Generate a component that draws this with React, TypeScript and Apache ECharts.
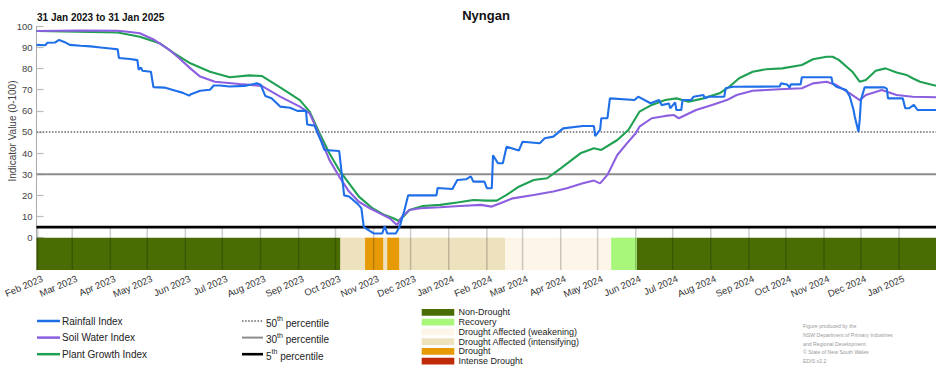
import React, { useEffect, useRef } from "react";
import * as echarts from "echarts";

const FONT = "'Liberation Sans', Arial, sans-serif";

const chartTitle = "Nyngan";
const chartSubtitle = "31 Jan 2023 to 31 Jan 2025";
const yAxisName = "Indicator Value (0-100)";
const startDate = "2023-01-31";
const endDate = "2025-01-31";
const yTickValues = [0, 10, 20, 30, 40, 50, 60, 70, 80, 90, 100];

const rainfallIndex: [string, number][] = [
  ["2023-01-31", 91.2], ["2023-02-07", 91], ["2023-02-09", 92.2], ["2023-02-15", 92.3], ["2023-02-18", 93.5],
  ["2023-02-19", 93.4], ["2023-02-23", 92.5], ["2023-02-27", 91.2], ["2023-03-08", 90.8], ["2023-03-16", 90.5],
  ["2023-03-24", 90], ["2023-04-01", 89.5], ["2023-04-07", 89.1], ["2023-04-08", 85], ["2023-04-17", 84.5],
  ["2023-04-23", 84], ["2023-04-24", 79.5], ["2023-04-26", 80.5], ["2023-04-27", 79], ["2023-05-04", 78.5],
  ["2023-05-06", 71.2], ["2023-05-15", 71], ["2023-05-24", 69.5], ["2023-05-30", 68.5], ["2023-06-04", 67.2],
  ["2023-06-06", 68], ["2023-06-13", 69.5], ["2023-06-21", 70], ["2023-06-24", 72], ["2023-06-29", 72],
  ["2023-07-07", 71.5], ["2023-07-19", 71.8], ["2023-07-29", 73], ["2023-08-01", 72.5], ["2023-08-05", 67],
  ["2023-08-10", 66], ["2023-08-17", 62], ["2023-08-25", 61.5], ["2023-08-31", 60], ["2023-09-07", 60],
  ["2023-09-08", 53.5], ["2023-09-14", 53], ["2023-09-16", 50], ["2023-09-19", 46], ["2023-09-22", 41.5],
  ["2023-10-04", 41], ["2023-10-08", 20], ["2023-10-12", 19.5], ["2023-10-19", 16], ["2023-10-22", 14],
  ["2023-10-24", 5], ["2023-11-01", 2], ["2023-11-08", 2], ["2023-11-10", 5.5], ["2023-11-12", 2],
  ["2023-11-19", 2], ["2023-11-22", 5], ["2023-11-26", 13], ["2023-11-29", 20], ["2023-12-09", 20],
  ["2023-12-22", 20], ["2023-12-23", 23.5], ["2024-01-04", 23], ["2024-01-08", 27.3], ["2024-01-15", 27.6],
  ["2024-01-19", 29], ["2024-01-21", 26.5], ["2024-01-30", 26.5], ["2024-02-01", 23.4], ["2024-02-05", 23.4],
  ["2024-02-06", 39], ["2024-02-10", 35.2], ["2024-02-14", 35.2], ["2024-02-17", 43], ["2024-02-27", 41.2],
  ["2024-03-01", 45.4], ["2024-03-15", 44.7], ["2024-03-19", 47], ["2024-03-26", 47.8], ["2024-04-03", 51.7],
  ["2024-04-19", 52.8], ["2024-04-28", 52.8], ["2024-04-29", 48], ["2024-05-03", 51], ["2024-05-04", 56.5],
  ["2024-05-09", 56.5], ["2024-05-11", 65.9], ["2024-05-31", 65.1], ["2024-06-03", 66.7], ["2024-06-13", 63.6],
  ["2024-06-20", 65.1], ["2024-06-22", 62.7], ["2024-06-28", 63.5], ["2024-06-29", 61.2], ["2024-07-03", 64],
  ["2024-07-04", 60.4], ["2024-07-08", 60.4], ["2024-07-09", 65.1], ["2024-07-16", 65.1], ["2024-07-18", 66.7],
  ["2024-07-26", 67.5], ["2024-07-27", 66], ["2024-07-30", 66.7], ["2024-08-12", 66.7], ["2024-08-13", 70.7],
  ["2024-08-19", 71.4], ["2024-09-26", 71.5], ["2024-09-27", 73], ["2024-10-02", 72.5], ["2024-10-04", 71],
  ["2024-10-05", 72.5], ["2024-10-13", 72.5], ["2024-10-14", 75.9], ["2024-11-07", 75.9], ["2024-11-08", 73],
  ["2024-11-11", 71.4], ["2024-11-16", 70.5], ["2024-11-19", 69.9], ["2024-11-22", 66.7], ["2024-11-25", 60.4],
  ["2024-11-26", 57.2], ["2024-11-28", 52.5], ["2024-11-29", 50.1], ["2024-11-30", 55.7], ["2024-12-01", 65.1],
  ["2024-12-04", 71.1], ["2024-12-20", 71.1], ["2024-12-22", 70.5], ["2024-12-23", 65.9], ["2025-01-04", 65.9],
  ["2025-01-06", 61.2], ["2025-01-09", 61.2], ["2025-01-13", 62.8], ["2025-01-16", 60.4], ["2025-01-31", 60.4],
];

const soilWaterIndex: [string, number][] = [
  ["2023-01-31", 97.8], ["2023-03-07", 98], ["2023-04-07", 97.9], ["2023-04-17", 97.3], ["2023-04-25", 96.7],
  ["2023-05-07", 93.5], ["2023-05-19", 88.8], ["2023-05-27", 84.9], ["2023-06-05", 80.1], ["2023-06-13", 76.2],
  ["2023-06-25", 73.8], ["2023-07-15", 72.7], ["2023-08-02", 71.8], ["2023-08-17", 66.7], ["2023-09-02", 62],
  ["2023-09-10", 58.8], ["2023-09-16", 51], ["2023-09-26", 36.8], ["2023-10-04", 28.9], ["2023-10-12", 21.8],
  ["2023-10-20", 17], ["2023-10-29", 13.9], ["2023-11-06", 11.5], ["2023-11-14", 9.2], ["2023-11-20", 6],
  ["2023-11-24", 9.9], ["2023-11-30", 13.1], ["2023-12-09", 13.9], ["2023-12-25", 14.4], ["2024-01-10", 15],
  ["2024-01-27", 15.5], ["2024-02-05", 14.7], ["2024-02-12", 16.3], ["2024-02-22", 18.6], ["2024-03-10", 20.2],
  ["2024-03-26", 21.8], ["2024-04-06", 23.4], ["2024-04-19", 25.7], ["2024-04-28", 27], ["2024-05-03", 25.7],
  ["2024-05-09", 29.7], ["2024-05-17", 39.1], ["2024-05-25", 44.7], ["2024-06-01", 49.4], ["2024-06-04", 52.5],
  ["2024-06-14", 56.5], ["2024-06-25", 57.6], ["2024-07-02", 58], ["2024-07-06", 56.5], ["2024-07-20", 60.4],
  ["2024-08-02", 62.8], ["2024-08-14", 65.1], ["2024-08-22", 67.5], ["2024-09-04", 69.5], ["2024-09-26", 70.2],
  ["2024-10-14", 70.7], ["2024-10-23", 73], ["2024-11-03", 73.8], ["2024-11-11", 72.2], ["2024-11-22", 68.3],
  ["2024-11-30", 65.1], ["2024-12-05", 67.5], ["2024-12-18", 69.9], ["2024-12-30", 67.5], ["2025-01-12", 66.7],
  ["2025-01-31", 66.4],
];

const plantGrowthIndex: [string, number][] = [
  ["2023-01-31", 97.8], ["2023-04-07", 97.1], ["2023-04-25", 95.1], ["2023-05-11", 92], ["2023-05-23", 87.2],
  ["2023-06-05", 82.5], ["2023-06-21", 78.5], ["2023-07-07", 75.9], ["2023-07-23", 76.8], ["2023-08-02", 76.5],
  ["2023-08-17", 71.1], ["2023-09-02", 65.1], ["2023-09-10", 59.6], ["2023-09-18", 49.4], ["2023-09-26", 39.9],
  ["2023-10-04", 32], ["2023-10-12", 25.7], ["2023-10-20", 19.4], ["2023-10-31", 13.9], ["2023-11-10", 10.7],
  ["2023-11-17", 9.2], ["2023-11-21", 8], ["2023-11-25", 9.9], ["2023-11-30", 13.1], ["2023-12-11", 15],
  ["2023-12-25", 15.5], ["2024-01-08", 16.6], ["2024-01-21", 17.8], ["2024-02-01", 17.5], ["2024-02-09", 17.5],
  ["2024-02-17", 20.2], ["2024-02-27", 24.1], ["2024-03-10", 27.3], ["2024-03-21", 28.1], ["2024-04-01", 32.8],
  ["2024-04-17", 39.9], ["2024-04-28", 42.3], ["2024-05-04", 41.5], ["2024-05-17", 46.2], ["2024-05-26", 50.9],
  ["2024-06-04", 59.6], ["2024-06-14", 62.8], ["2024-06-25", 65.1], ["2024-07-04", 65.9], ["2024-07-14", 64.3],
  ["2024-07-26", 65.9], ["2024-08-08", 68.3], ["2024-08-16", 71.4], ["2024-08-24", 75.4], ["2024-09-04", 78.5],
  ["2024-09-15", 79.7], ["2024-09-28", 80.1], ["2024-10-14", 81.7], ["2024-10-23", 84.4], ["2024-11-03", 85.6],
  ["2024-11-08", 85.6], ["2024-11-13", 84.1], ["2024-11-24", 78.5], ["2024-11-30", 73.8], ["2024-12-05", 74.6],
  ["2024-12-13", 79], ["2024-12-21", 80.1], ["2024-12-30", 78.1], ["2025-01-07", 77], ["2025-01-12", 75.4],
  ["2025-01-18", 73.8], ["2025-01-31", 71.9],
];

const indexNames = ["Rainfall Index", "Soil Water Index", "Plant Growth Index"];
const indexColors = ["#1f6fe8", "#8b5fe0", "#20a052"];

const percentileValues = [50, 30, 5];
const percentileNumbers = ["50", "30", "5"];
const percentileColors = ["#8c8c8c", "#8c8c8c", "#000000"];
const percentileTypes: any[] = [[1.5, 1.6], "solid", "solid"];
const percentileWidths = [2, 2, 2.6];

const droughtCategories = [
  "Non-Drought",
  "Recovery",
  "Drought Affected (weakening)",
  "Drought Affected (intensifying)",
  "Drought",
  "Intense Drought",
];
const droughtColors = ["#4a6d03", "#a8f67a", "#fdf5e8", "#eee1be", "#e69b06", "#bf2a08"];
const droughtPeriods: [string, string, number][] = [
  ["2023-01-31", "2023-10-05", 0],
  ["2023-10-05", "2023-10-25", 3],
  ["2023-10-25", "2023-11-09", 4],
  ["2023-11-09", "2023-11-12", 3],
  ["2023-11-12", "2023-11-22", 4],
  ["2023-11-22", "2024-02-16", 3],
  ["2024-02-16", "2024-05-12", 2],
  ["2024-05-12", "2024-06-02", 1],
  ["2024-06-02", "2025-01-31", 0],
];

const monthTicks = [
  "2023-02-01", "2023-03-01", "2023-04-01", "2023-05-01", "2023-06-01", "2023-07-01",
  "2023-08-01", "2023-09-01", "2023-10-01", "2023-11-01", "2023-12-01", "2024-01-01",
  "2024-02-01", "2024-03-01", "2024-04-01", "2024-05-01", "2024-06-01", "2024-07-01",
  "2024-08-01", "2024-09-01", "2024-10-01", "2024-11-01", "2024-12-01", "2025-01-01",
];
const monthNames = ["Jan", "Feb", "Mar", "Apr", "May", "Jun", "Jul", "Aug", "Sep", "Oct", "Nov", "Dec"];

const creditLines = [
  "Figure produced by the",
  "NSW Department of Primary Industries",
  "and Regional Development",
  "\u00A9 State of New South Wales",
  "EDIS v2.2",
];

const ts = (s: string) => {
  const [y, m, d] = s.split("-").map(Number);
  return new Date(y, m - 1, d).getTime();
};

export default function App() {
  const ref = useRef<HTMLDivElement>(null);

  useEffect(() => {
    if (!ref.current) return;
    const chart = echarts.init(ref.current, undefined, { renderer: "svg" });
    const xMin = ts(startDate);
    const xMax = ts(endDate);
    const bandTop = 0;
    const bandBottom = -15.3;
    const gridLineTop = 5;

    const indexData = [rainfallIndex, soilWaterIndex, plantGrowthIndex];

    const graphic: any[] = [];
    graphic.push({
      type: "text",
      x: 486,
      y: 15,
      style: { text: chartTitle, fill: "#111", font: `bold 13px ${FONT}`, align: "center", verticalAlign: "middle" },
    });
    graphic.push({
      type: "text",
      x: 37,
      y: 17.5,
      style: { text: chartSubtitle, fill: "#111", font: `bold 10px ${FONT}`, align: "left", verticalAlign: "middle" },
    });
    graphic.push({
      type: "text",
      x: 12,
      y: 131,
      rotation: Math.PI / 2,
      style: { text: yAxisName, fill: "#444", font: `10px ${FONT}`, align: "center", verticalAlign: "middle" },
    });
    indexNames.forEach((name, i) => {
      const y = 321 + i * 16.6;
      graphic.push({
        type: "line",
        shape: { x1: 37, y1: y, x2: 60, y2: y },
        style: { stroke: indexColors[i], lineWidth: 2.5 },
      });
      graphic.push({
        type: "text",
        x: 62,
        y,
        style: { text: name, fill: "#222", font: `10px ${FONT}`, align: "left", verticalAlign: "middle" },
      });
    });
    percentileNumbers.forEach((num, i) => {
      const y = 321 + i * 16.6;
      graphic.push({
        type: "line",
        shape: { x1: 242, y1: y, x2: 263, y2: y },
        style: {
          stroke: percentileColors[i],
          lineWidth: percentileWidths[i],
          lineDash: Array.isArray(percentileTypes[i]) ? percentileTypes[i] : null,
        },
      });
      graphic.push({
        type: "text",
        x: 266,
        y: y - 6,
        style: {
          text: `{n|${num}}{s|th}{n| percentile}`,
          fill: "#222",
          align: "left",
          verticalAlign: "top",
          rich: {
            n: { fontSize: 10, fontFamily: FONT, lineHeight: 13, fill: "#222", verticalAlign: "bottom" },
            s: { fontSize: 7, fontFamily: FONT, lineHeight: 13, fill: "#222", verticalAlign: "top" },
          },
        },
      });
    });
    droughtCategories.forEach((name, i) => {
      const y = 309 + i * 9.75;
      graphic.push({
        type: "rect",
        shape: { x: 421.7, y, width: 32.6, height: 6.8 },
        style: { fill: droughtColors[i] },
      });
      graphic.push({
        type: "text",
        x: 458.5,
        y: y + 3.4,
        style: { text: name, fill: "#222", font: `9px ${FONT}`, align: "left", verticalAlign: "middle" },
      });
    });
    creditLines.forEach((line, i) => {
      graphic.push({
        type: "text",
        x: 803,
        y: 326 + i * 8.8,
        style: { text: line, fill: "#9a9a9a", font: `5.2px ${FONT}`, align: "left", verticalAlign: "middle" },
      });
    });

    const series: any[] = [];
    series.push({
      type: "custom",
      silent: true,
      data: droughtPeriods.map((p) => [ts(p[0]), ts(p[1]), p[2]]),
      encode: { x: [0, 1] },
      renderItem: (params: any, api: any) => {
        const a = api.coord([api.value(0), bandTop]);
        const b = api.coord([api.value(1), bandBottom]);
        return {
          type: "rect",
          shape: { x: a[0], y: a[1], width: b[0] - a[0], height: b[1] - a[1] },
          style: { fill: droughtColors[api.value(2)] },
        };
      },
      z: 1,
    });
    series.push({
      type: "custom",
      silent: true,
      data: monthTicks.map((m) => [ts(m)]),
      encode: { x: 0 },
      renderItem: (params: any, api: any) => {
        const a = api.coord([api.value(0), gridLineTop]);
        const b = api.coord([api.value(0), bandBottom]);
        return {
          type: "line",
          shape: { x1: a[0], y1: a[1], x2: b[0], y2: b[1] },
          style: { stroke: "rgba(0,0,0,0.2)", lineWidth: 1.5 },
        };
      },
      z: 2,
    });
    percentileValues.forEach((v, i) => {
      series.push({
        type: "line",
        silent: true,
        showSymbol: false,
        symbol: "none",
        data: [[xMin, v], [xMax, v]],
        lineStyle: { color: percentileColors[i], width: percentileWidths[i], type: percentileTypes[i] },
        z: 3,
      });
    });
    indexNames.forEach((name, i) => {
      series.push({
        name,
        type: "line",
        showSymbol: false,
        symbol: "none",
        data: indexData[i].map(([d, v]) => [ts(d), v]),
        lineStyle: { color: indexColors[i], width: 2.1 },
        itemStyle: { color: indexColors[i] },
        z: 4 + (indexNames.length - i),
      });
    });

    const option: any = {
      animation: false,
      backgroundColor: "#ffffff",
      textStyle: { fontFamily: FONT },
      graphic,
      grid: { left: 36.5, right: 16, top: 26.3, bottom: 100 },
      xAxis: {
        type: "value",
        min: xMin,
        max: xMax,
        axisLine: { show: false, onZero: false },
        axisTick: { show: false },
        splitLine: { show: false },
        axisLabel: {
          customValues: monthTicks.map(ts),
          rotate: 23,
          margin: 10,
          fontSize: 9.5,
          color: "#333",
          fontFamily: FONT,
          hideOverlap: false,
          padding: [0, -5, 0, 0],
          formatter: (v: number) => {
            const d = new Date(v);
            return `${monthNames[d.getMonth()]} ${d.getFullYear()}`;
          },
        },
      },
      yAxis: {
        type: "value",
        min: bandBottom,
        max: 100,
        axisLine: { show: true, onZero: false, lineStyle: { color: "#aaa", width: 1 } },
        axisTick: { show: true, inside: true, length: 7, customValues: yTickValues, lineStyle: { color: "#bbb", width: 1.2 } },
        axisLabel: { customValues: yTickValues, fontSize: 9.5, color: "#444", margin: 4, fontFamily: FONT },
        splitLine: { show: false },
      },
      series,
    };
    chart.setOption(option);
    return () => chart.dispose();
  }, []);

  return (
    <div
      ref={ref}
      style={{ position: "fixed", left: 0, top: 0, width: 952, height: 370, background: "#fff" }}
    />
  );
}
